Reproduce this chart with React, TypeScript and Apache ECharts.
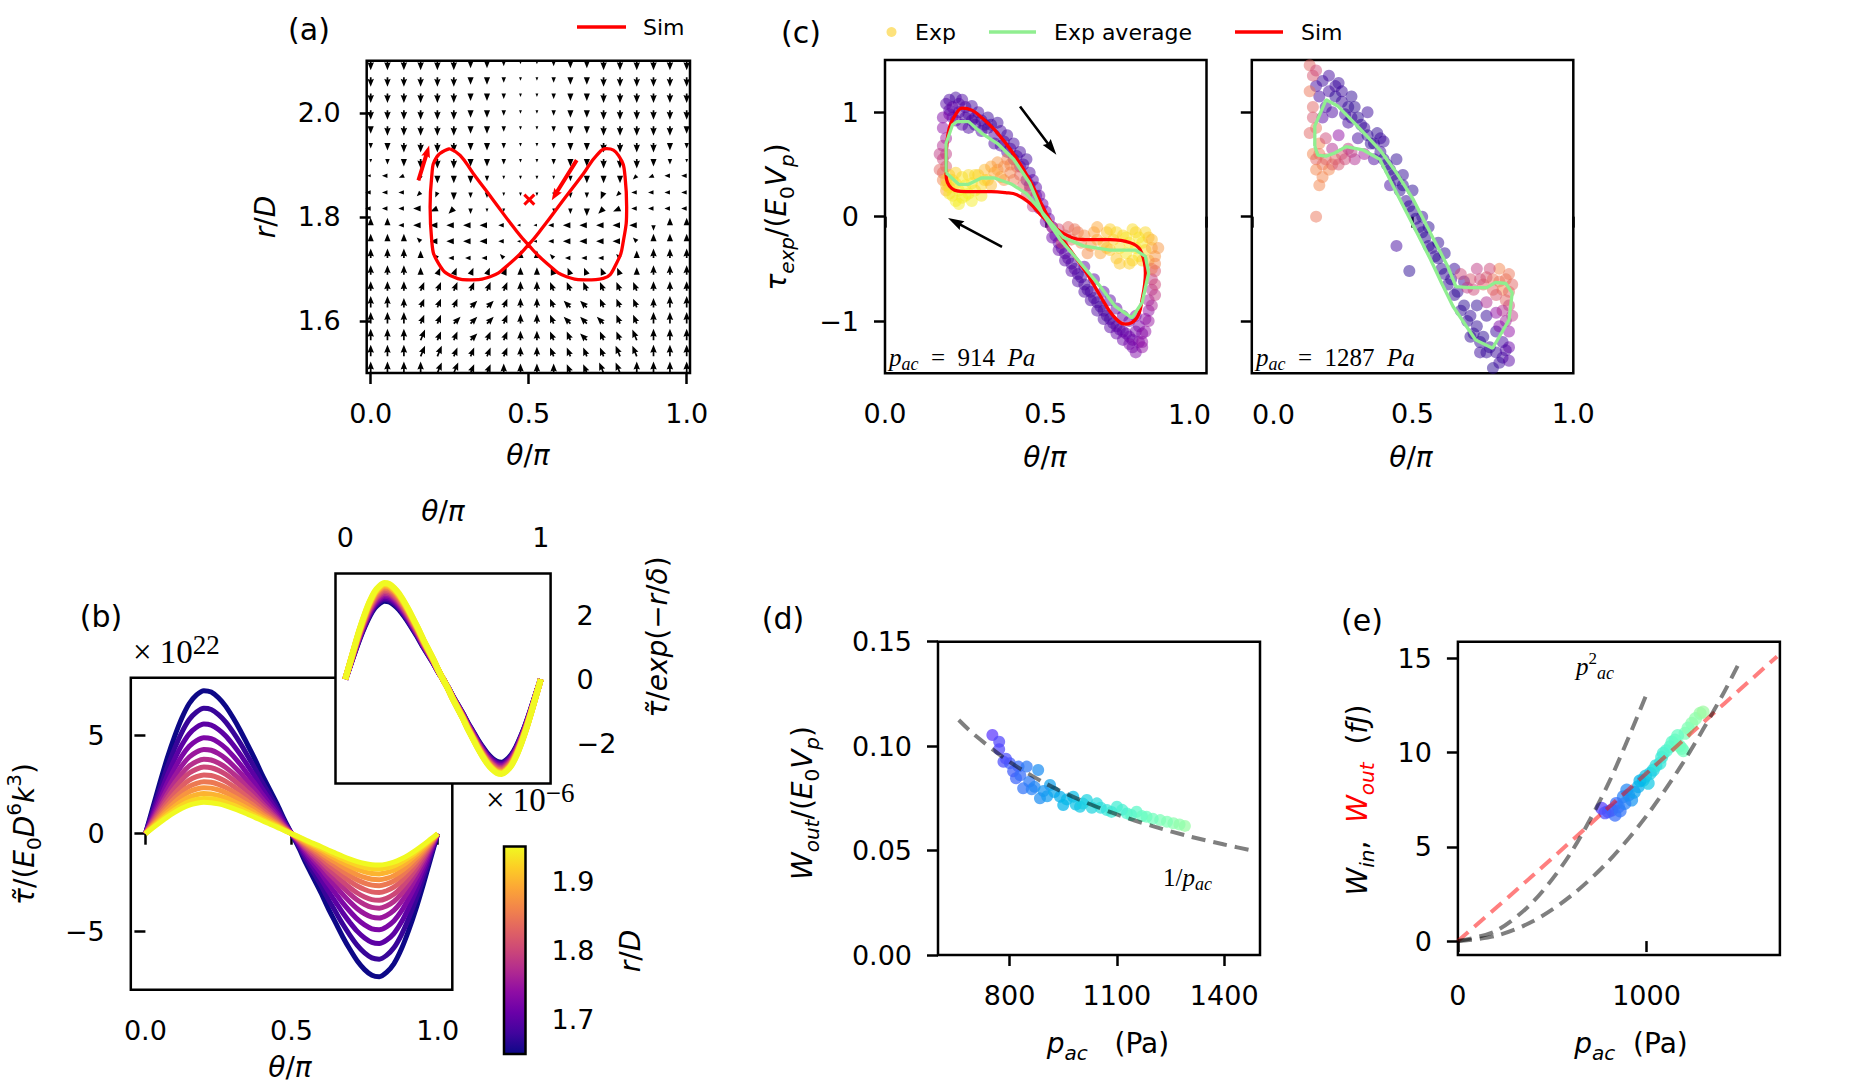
import React, { useEffect, useRef } from 'react';
import * as echarts from 'echarts';

const FONT = 'DejaVu Sans';
const SERIF = 'Liberation Serif';

// ================= Panel (a): quiver field + simulated figure-8 =================
const A_THETA = [0, 0.053, 0.105, 0.158, 0.211, 0.263, 0.316, 0.368, 0.421, 0.474, 0.526, 0.579, 0.632, 0.684, 0.737, 0.789, 0.842, 0.895, 0.947, 1.0];
const A_R = [2.1, 2.068, 2.037, 2.005, 1.974, 1.942, 1.911, 1.879, 1.847, 1.816, 1.784, 1.753, 1.721, 1.689, 1.658, 1.626, 1.595, 1.563, 1.532, 1.5];
// direction code per grid node: A=0deg (right), each letter +22.5deg ccw, E=up, I=left, M=down
const A_DIR = [
  'MMMMMMMMMMMMMMMMMMMM',
  'MMMMMMMMMMMMMMMMMMMM',
  'MMMMMMMMMMMMMMMMMMMM',
  'MMMMMMMMMMMMMMMMMMMM',
  'MMMMMMMMMMMMMMMMMMMM',
  'MMMMMMMMMMMMMMMMMMMM',
  'MMMMMMMMMMMMMMMMMMMM',
  'IIJLMMMMMMMMMMMMKJII',
  'IIIKLMMMMMMMMMLKIIII',
  'IIIIJKMMMMMMMMKJIIII',
  'EEIIIIIIIIIIIIIIIMEE',
  'EEEGIIIIIIIIIIIIGEEE',
  'EEEEGIIIGEEGIIIGEEEE',
  'EEEEDDDDDEEFFFFFEEEE',
  'EEEDDDDDDEEFFFFFFEEE',
  'EEEDDDCCDEEFGGFFFEEE',
  'EEEDDCCCDEEFGGGFFEEE',
  'EEEDDDCDDEEFFGFFFEEE',
  'EEEDDDDDDEEFFFFFFEEE',
  'EEEEDDDDEEEEFFFFEEEE',
];
// arrow length class per node (0 = none)
const A_LEN = [
  '44444433211233444444',
  '44444433211233444444',
  '44444433211233444444',
  '44444433211233444444',
  '34444433211233444443',
  '23444433211233444432',
  '12344433211233444321',
  '12223332111123332222',
  '22222322111122322222',
  '22233321100123332222',
  '33233333211233333233',
  '33323333211233332333',
  '44432222233222223444',
  '44433333333333333444',
  '44444444444444444444',
  '55444444444444444455',
  '55544444444444444555',
  '55554444444444445555',
  '55555444444444455555',
  '55555544444444555555',
];
const A_SIM = [
  [0.251, 1.931], [0.209, 1.915], [0.193, 1.877], [0.188, 1.819], [0.193, 1.755], [0.214, 1.711], [0.261, 1.685],
  [0.314, 1.679], [0.378, 1.685], [0.441, 1.711], [0.499, 1.746], [0.546, 1.781], [0.609, 1.832], [0.673, 1.883],
  [0.715, 1.918], [0.747, 1.931], [0.784, 1.918], [0.805, 1.877], [0.81, 1.819], [0.8, 1.755], [0.778, 1.711],
  [0.736, 1.682], [0.684, 1.679], [0.62, 1.685], [0.557, 1.711], [0.499, 1.746], [0.451, 1.781], [0.388, 1.832],
  [0.325, 1.883], [0.283, 1.918], [0.251, 1.931],
];
const A_ARROWS = [[0.151, 1.87, 0.185, 1.937], [0.652, 1.909, 0.573, 1.832]];
const A_CROSS = [[0.502, 1.833]];

// ================= Panel (b): torque curves =================
const B_THETA = [0, 0.025, 0.05, 0.075, 0.1, 0.125, 0.15, 0.175, 0.2, 0.225, 0.25, 0.275, 0.3, 0.325, 0.35, 0.375, 0.4, 0.425, 0.45, 0.475, 0.5,
  0.525, 0.55, 0.575, 0.6, 0.625, 0.65, 0.675, 0.7, 0.725, 0.75, 0.775, 0.8, 0.825, 0.85, 0.875, 0.9, 0.925, 0.95, 0.975, 1.0];
const B_SHAPE = [0, 0.18, 0.36, 0.53, 0.68, 0.81, 0.91, 0.97, 1.0, 0.99, 0.95, 0.89, 0.81, 0.72, 0.62, 0.52, 0.41, 0.31, 0.21, 0.1, 0,
  -0.1, -0.21, -0.31, -0.41, -0.52, -0.62, -0.72, -0.81, -0.89, -0.95, -0.99, -1.0, -0.97, -0.91, -0.81, -0.68, -0.53, -0.36, -0.18, 0];
const B_RD = [1.65, 1.675, 1.7, 1.725, 1.75, 1.775, 1.8, 1.825, 1.85, 1.875, 1.9, 1.925, 1.95];
const B_AMP = [7.3, 6.4, 5.6, 4.9, 4.3, 3.8, 3.4, 3.0, 2.65, 2.35, 2.05, 1.8, 1.6];
const B_INSET_POS = [2.45, 2.5, 2.55, 2.6, 2.65, 2.7, 2.75, 2.8, 2.85, 2.9, 2.93, 2.97, 3.0];
const B_INSET_NEG = [2.6, 2.63, 2.66, 2.7, 2.73, 2.77, 2.8, 2.83, 2.86, 2.89, 2.91, 2.93, 2.95];

// ================= Panel (c): experiment vs simulation =================
// [theta/pi, tau, colour value (plasma)]
const C1_EXP = [
  [0.19, 1.08, 0.15], [0.2, 1.12, 0.12], [0.21, 1.05, 0.18], [0.22, 1.14, 0.1], [0.23, 1.08, 0.15], [0.24, 1.12, 0.12], [0.25, 1.05, 0.14],
  [0.26, 0.98, 0.12], [0.27, 1.06, 0.1], [0.28, 0.95, 0.12], [0.2, 0.98, 0.2], [0.22, 0.92, 0.18], [0.24, 0.88, 0.15], [0.26, 0.85, 0.12],
  [0.28, 0.88, 0.1], [0.3, 0.92, 0.1], [0.3, 0.82, 0.12], [0.32, 0.95, 0.08], [0.32, 0.85, 0.1], [0.34, 0.78, 0.12], [0.35, 0.9, 0.08],
  [0.36, 0.82, 0.1], [0.37, 0.72, 0.12], [0.38, 0.78, 0.1], [0.39, 0.65, 0.12], [0.4, 0.7, 0.1], [0.41, 0.58, 0.12], [0.42, 0.62, 0.1],
  [0.43, 0.5, 0.12], [0.44, 0.55, 0.1], [0.45, 0.42, 0.12], [0.46, 0.35, 0.15], [0.47, 0.28, 0.15], [0.48, 0.2, 0.2], [0.49, 0.12, 0.2],
  [0.5, 0.05, 0.22], [0.51, -0.02, 0.2], [0.52, -0.1, 0.2], [0.53, -0.18, 0.18], [0.54, -0.25, 0.18], [0.55, -0.3, 0.15], [0.56, -0.35, 0.15],
  [0.57, -0.4, 0.15], [0.58, -0.45, 0.12], [0.59, -0.5, 0.12], [0.6, -0.55, 0.12], [0.61, -0.58, 0.12], [0.62, -0.65, 0.12], [0.63, -0.7, 0.1],
  [0.64, -0.72, 0.12], [0.65, -0.78, 0.1], [0.66, -0.82, 0.12], [0.67, -0.86, 0.1], [0.68, -0.9, 0.12], [0.69, -0.95, 0.1], [0.7, -0.98, 0.12],
  [0.71, -1.02, 0.12], [0.72, -1.05, 0.15], [0.73, -1.08, 0.15], [0.74, -1.1, 0.18], [0.75, -1.12, 0.18], [0.76, -1.15, 0.2], [0.77, -1.18, 0.2],
  [0.78, -1.1, 0.22], [0.79, -1.05, 0.25], [0.8, -1.12, 0.25], [0.81, -0.98, 0.28], [0.82, -0.9, 0.3], [0.82, -0.8, 0.35], [0.83, -0.7, 0.4],
  [0.83, -0.6, 0.45], [0.84, -0.52, 0.55], [0.62, -0.48, 0.15], [0.65, -0.6, 0.15], [0.68, -0.72, 0.15], [0.7, -0.8, 0.15], [0.72, -0.88, 0.18],
  [0.74, -0.95, 0.18], [0.76, -1.0, 0.2], [0.78, -0.95, 0.25], [0.79, -1.2, 0.25], [0.8, -1.25, 0.3], [0.76, -1.22, 0.25],
  [0.2, 1.02, 0.15], [0.21, 0.95, 0.2], [0.23, 1.0, 0.15], [0.25, 0.95, 0.12], [0.27, 0.92, 0.12], [0.29, 1.0, 0.1], [0.31, 0.88, 0.1],
  [0.33, 0.88, 0.1], [0.34, 0.7, 0.12], [0.36, 0.68, 0.12], [0.38, 0.62, 0.12], [0.4, 0.55, 0.12], [0.42, 0.48, 0.15], [0.44, 0.35, 0.15],
  [0.45, 0.3, 0.18], [0.47, 0.2, 0.2], [0.48, 0.08, 0.22], [0.5, -0.05, 0.22], [0.52, -0.2, 0.2], [0.54, -0.32, 0.18], [0.56, -0.42, 0.15],
  [0.58, -0.52, 0.15], [0.6, -0.62, 0.12], [0.62, -0.72, 0.12], [0.64, -0.8, 0.12], [0.66, -0.9, 0.12], [0.68, -0.98, 0.12], [0.7, -1.06, 0.15],
  [0.72, -1.12, 0.18], [0.74, -1.18, 0.2], [0.77, -1.25, 0.22], [0.78, -1.3, 0.25], [0.8, -1.2, 0.3], [0.81, -1.1, 0.3], [0.82, -1.0, 0.32],
  [0.83, -0.85, 0.38], [0.84, -0.75, 0.45], [0.84, -0.65, 0.5],
  [0.18, 0.95, 0.25], [0.18, 0.85, 0.3], [0.19, 0.75, 0.35], [0.18, 0.68, 0.4], [0.19, 0.6, 0.45], [0.18, 0.55, 0.5], [0.19, 0.48, 0.55], [0.18, 0.42, 0.65],
  [0.17, 0.6, 0.45], [0.17, 0.45, 0.6], [0.18, 0.35, 0.7], [0.19, 0.25, 0.8],
  [0.19, 0.35, 0.85], [0.2, 0.28, 0.9], [0.2, 0.4, 0.88], [0.21, 0.2, 0.95], [0.22, 0.32, 0.95], [0.22, 0.15, 0.97], [0.23, 0.25, 0.97],
  [0.24, 0.38, 0.95], [0.24, 0.18, 0.97], [0.25, 0.3, 0.97], [0.26, 0.22, 0.97], [0.26, 0.4, 0.93], [0.27, 0.32, 0.95], [0.28, 0.25, 0.95],
  [0.29, 0.4, 0.9], [0.3, 0.3, 0.92], [0.31, 0.45, 0.85], [0.32, 0.35, 0.88],
  [0.19, 0.3, 0.9], [0.2, 0.22, 0.95], [0.21, 0.35, 0.92], [0.22, 0.42, 0.9], [0.23, 0.12, 0.97], [0.25, 0.2, 0.97], [0.27, 0.15, 0.97],
  [0.28, 0.4, 0.92], [0.3, 0.2, 0.95], [0.31, 0.35, 0.9], [0.33, 0.3, 0.85], [0.35, 0.45, 0.78], [0.37, 0.35, 0.75], [0.39, 0.5, 0.7],
  [0.33, 0.48, 0.8], [0.34, 0.42, 0.8], [0.35, 0.52, 0.75], [0.36, 0.38, 0.78], [0.37, 0.48, 0.72], [0.38, 0.55, 0.7], [0.39, 0.42, 0.7],
  [0.4, 0.35, 0.68], [0.41, 0.48, 0.65], [0.42, 0.4, 0.62], [0.43, 0.3, 0.6], [0.44, 0.2, 0.55], [0.45, 0.25, 0.5], [0.46, 0.1, 0.45],
  [0.52, -0.1, 0.4], [0.54, -0.12, 0.5], [0.56, -0.18, 0.55], [0.57, -0.1, 0.6], [0.58, -0.22, 0.62], [0.6, -0.15, 0.68], [0.61, -0.25, 0.7],
  [0.62, -0.18, 0.72], [0.64, -0.28, 0.75], [0.65, -0.15, 0.78], [0.66, -0.22, 0.8], [0.67, -0.35, 0.8], [0.68, -0.25, 0.85], [0.69, -0.15, 0.85],
  [0.7, -0.32, 0.88], [0.71, -0.22, 0.9], [0.72, -0.4, 0.88], [0.73, -0.3, 0.92], [0.74, -0.18, 0.92], [0.75, -0.35, 0.95], [0.76, -0.25, 0.95],
  [0.77, -0.42, 0.92], [0.78, -0.3, 0.95], [0.78, -0.15, 0.9], [0.79, -0.38, 0.95], [0.8, -0.25, 0.95], [0.81, -0.32, 0.92], [0.82, -0.2, 0.85],
  [0.82, -0.42, 0.85], [0.83, -0.3, 0.8], [0.84, -0.38, 0.75], [0.84, -0.45, 0.7],
  [0.55, -0.25, 0.5], [0.59, -0.12, 0.65], [0.63, -0.35, 0.72], [0.66, -0.1, 0.8], [0.69, -0.3, 0.85], [0.7, -0.12, 0.9], [0.72, -0.15, 0.92],
  [0.73, -0.45, 0.88], [0.75, -0.2, 0.95], [0.76, -0.45, 0.9], [0.77, -0.12, 0.93], [0.79, -0.2, 0.95], [0.8, -0.42, 0.9], [0.81, -0.15, 0.92],
  [0.83, -0.22, 0.85], [0.85, -0.3, 0.75], [0.83, -0.5, 0.65],
];
const C1_AVG = [
  [0.19, 0.42], [0.19, 0.7], [0.21, 0.88], [0.224, 0.91], [0.26, 0.91], [0.3, 0.8], [0.35, 0.7], [0.4, 0.55], [0.45, 0.32], [0.49, 0.03],
  [0.545, -0.22], [0.607, -0.44], [0.67, -0.67], [0.716, -0.86], [0.768, -0.97], [0.8, -0.82], [0.82, -0.54], [0.81, -0.38], [0.78, -0.32],
  [0.74, -0.32], [0.7, -0.32], [0.617, -0.28], [0.555, -0.2], [0.5, 0.0], [0.44, 0.22], [0.395, 0.31], [0.34, 0.37], [0.3, 0.37],
  [0.26, 0.31], [0.229, 0.31], [0.19, 0.42],
];
const C1_SIM = [
  [0.19, 0.61], [0.2, 0.85], [0.22, 0.98], [0.24, 1.04], [0.27, 1.02], [0.3, 0.95], [0.35, 0.8], [0.4, 0.6], [0.45, 0.35], [0.49, 0.1],
  [0.524, -0.09], [0.576, -0.32], [0.627, -0.54], [0.67, -0.76], [0.71, -0.95], [0.747, -1.03], [0.783, -0.97], [0.8, -0.79], [0.81, -0.54],
  [0.794, -0.32], [0.763, -0.25], [0.7, -0.22], [0.617, -0.22], [0.555, -0.16], [0.49, 0.0], [0.45, 0.13], [0.41, 0.21], [0.374, 0.23],
  [0.33, 0.24], [0.25, 0.24], [0.208, 0.27], [0.19, 0.4], [0.19, 0.61],
];
const C2_EXP = [
  [0.2, 1.25, 0.1], [0.22, 1.3, 0.08], [0.24, 1.2, 0.1], [0.26, 1.15, 0.05], [0.28, 1.1, 0.08], [0.3, 1.05, 0.06], [0.25, 1.0, 0.12],
  [0.22, 0.95, 0.15], [0.3, 0.9, 0.1], [0.33, 0.95, 0.05], [0.35, 0.85, 0.08], [0.33, 0.75, 0.1], [0.37, 0.7, 0.06], [0.4, 0.62, 0.07],
  [0.38, 0.55, 0.12], [0.42, 0.5, 0.05], [0.44, 0.4, 0.06], [0.43, 0.3, 0.1], [0.46, 0.25, 0.05], [0.48, 0.15, 0.07], [0.5, 0.05, 0.05],
  [0.52, -0.1, 0.06], [0.54, -0.2, 0.05], [0.56, -0.3, 0.07], [0.58, -0.4, 0.05], [0.6, -0.55, 0.06], [0.62, -0.6, 0.08], [0.64, -0.72, 0.06],
  [0.66, -0.85, 0.05], [0.68, -0.95, 0.07], [0.7, -1.05, 0.06], [0.72, -1.15, 0.05], [0.74, -1.25, 0.07], [0.76, -1.3, 0.08], [0.78, -1.35, 0.1],
  [0.75, -1.45, 0.05], [0.8, -1.25, 0.2], [0.8, -1.1, 0.3], [0.81, -0.95, 0.45], [0.45, -0.28, 0.1], [0.49, -0.52, 0.05],
  [0.27, 1.28, 0.08], [0.31, 1.15, 0.06], [0.36, 1.0, 0.08], [0.39, 0.8, 0.06], [0.41, 0.72, 0.08], [0.45, 0.55, 0.06], [0.47, 0.4, 0.06],
  [0.5, 0.25, 0.05], [0.53, 0.0, 0.06], [0.55, -0.1, 0.05], [0.58, -0.25, 0.06], [0.6, -0.35, 0.05], [0.63, -0.5, 0.07], [0.66, -0.62, 0.08],
  [0.7, -0.85, 0.06], [0.73, -0.95, 0.07], [0.76, -1.1, 0.08], [0.78, -1.2, 0.1], [0.68, -1.15, 0.06], [0.71, -1.3, 0.08],
  [0.21, 1.15, 0.1], [0.23, 1.05, 0.1], [0.24, 1.35, 0.1], [0.26, 1.25, 0.08], [0.28, 1.2, 0.08], [0.29, 0.98, 0.08], [0.31, 0.95, 0.08],
  [0.32, 1.05, 0.06], [0.34, 0.88, 0.07], [0.36, 0.78, 0.06], [0.38, 0.7, 0.06], [0.4, 0.75, 0.08], [0.41, 0.55, 0.06], [0.43, 0.45, 0.06],
  [0.45, 0.35, 0.06], [0.47, 0.3, 0.06], [0.49, 0.1, 0.06], [0.51, -0.02, 0.06], [0.53, -0.15, 0.06], [0.55, -0.28, 0.06], [0.57, -0.38, 0.06],
  [0.59, -0.5, 0.06], [0.61, -0.65, 0.06], [0.63, -0.75, 0.06], [0.65, -0.9, 0.06], [0.67, -1.0, 0.06], [0.69, -1.12, 0.06], [0.71, -1.2, 0.06],
  [0.73, -1.3, 0.07], [0.77, -1.4, 0.08], [0.79, -1.28, 0.12], [0.8, -1.38, 0.15],
  [0.18, 1.45, 0.6], [0.19, 1.35, 0.55], [0.2, 1.4, 0.5], [0.18, 1.2, 0.65], [0.19, 1.05, 0.6], [0.2, 0.85, 0.65], [0.21, 0.7, 0.7],
  [0.19, 0.6, 0.7], [0.22, 0.5, 0.65], [0.24, 0.45, 0.7], [0.26, 0.55, 0.6], [0.28, 0.6, 0.55], [0.3, 0.65, 0.45], [0.32, 0.55, 0.4],
  [0.35, 0.6, 0.35], [0.21, 0.3, 0.7], [0.2, 0.0, 0.65], [0.23, 0.75, 0.5], [0.25, 0.65, 0.4], [0.27, 0.78, 0.3], [0.2, 0.55, 0.6],
  [0.18, 0.8, 0.6], [0.19, 0.95, 0.55], [0.21, 0.6, 0.65], [0.23, 0.55, 0.6], [0.25, 0.5, 0.6], [0.27, 0.5, 0.55], [0.29, 0.55, 0.5],
  [0.31, 0.62, 0.45], [0.2, 0.45, 0.7], [0.22, 0.38, 0.7],
  [0.65, -0.55, 0.5], [0.68, -0.6, 0.55], [0.7, -0.5, 0.45], [0.72, -0.65, 0.6], [0.75, -0.6, 0.65], [0.77, -0.5, 0.7], [0.78, -0.7, 0.7],
  [0.8, -0.55, 0.65], [0.79, -0.8, 0.6], [0.76, -0.75, 0.55], [0.74, -0.5, 0.5], [0.81, -0.65, 0.6], [0.73, -0.82, 0.4], [0.76, -0.92, 0.3],
  [0.67, -0.68, 0.45], [0.69, -0.7, 0.5], [0.71, -0.6, 0.5], [0.73, -0.58, 0.55], [0.75, -0.7, 0.6], [0.77, -0.62, 0.65], [0.79, -0.6, 0.65],
  [0.8, -0.72, 0.6], [0.8, -0.85, 0.5], [0.78, -0.9, 0.4], [0.79, -1.0, 0.35], [0.77, -1.05, 0.25],
];
const C2_AVG = [
  [0.196, 0.674], [0.196, 0.87], [0.223, 1.06], [0.231, 1.12], [0.267, 1.06], [0.328, 0.87], [0.398, 0.64], [0.45, 0.42], [0.503, 0.16],
  [0.556, -0.16], [0.61, -0.48], [0.635, -0.67], [0.679, -0.68], [0.731, -0.68], [0.758, -0.63], [0.79, -0.64], [0.81, -0.73], [0.8, -0.99],
  [0.749, -1.26], [0.696, -1.18], [0.626, -0.86], [0.591, -0.64], [0.556, -0.41], [0.503, -0.09], [0.45, 0.23], [0.398, 0.55], [0.345, 0.64],
  [0.293, 0.67], [0.258, 0.61], [0.231, 0.58], [0.205, 0.59], [0.196, 0.674],
];
const C_ARROWS = [[0.42, 1.055, 0.533, 0.593], [0.364, -0.29, 0.196, -0.013]];

// ================= Panel (d): normalised output work =================
// [p_ac (Pa), W_out/(E0 Vp), colour value]
const D_EXP = [
  [752, 0.1053, 0.07], [771, 0.1021, 0.09], [771, 0.0985, 0.09], [783, 0.0925, 0.1], [801, 0.0918, 0.12], [825, 0.0902, 0.14],
  [848, 0.0902, 0.16], [880, 0.0886, 0.19], [818, 0.0846, 0.13], [838, 0.0798, 0.15], [862, 0.0793, 0.17], [885, 0.075, 0.19],
  [913, 0.0814, 0.22], [941, 0.0758, 0.24], [950, 0.0718, 0.25], [978, 0.0758, 0.27], [997, 0.071, 0.29], [1016, 0.0742, 0.31],
  [1044, 0.0726, 0.33], [1072, 0.0694, 0.36], [1100, 0.071, 0.38], [1128, 0.0678, 0.41], [1155, 0.0686, 0.43], [1183, 0.0662, 0.46],
  [1221, 0.0646, 0.49], [1258, 0.0631, 0.52], [1290, 0.0618, 0.55],
  [790, 0.094, 0.1], [810, 0.088, 0.12], [830, 0.086, 0.14], [855, 0.083, 0.16], [870, 0.0805, 0.18], [895, 0.0785, 0.2], [905, 0.076, 0.21],
  [925, 0.078, 0.23], [960, 0.0745, 0.26], [985, 0.072, 0.28], [1005, 0.0725, 0.3], [1030, 0.0705, 0.32], [1055, 0.0705, 0.34],
  [1085, 0.0685, 0.37], [1115, 0.0695, 0.39], [1140, 0.067, 0.42], [1170, 0.0665, 0.45], [1200, 0.0652, 0.47], [1240, 0.0638, 0.5], [1275, 0.0625, 0.53],
];
const D_FIT = [[658, 0.1125], [700, 0.1057], [800, 0.0925], [900, 0.0822], [1000, 0.074], [1100, 0.0673], [1200, 0.0617], [1300, 0.0569], [1400, 0.0529], [1485, 0.0498]];

// ================= Panel (e): W_in, W_out =================
const E_EXP = [
  [762, 7.04, 0.08], [797, 6.86, 0.11], [833, 6.68, 0.14], [851, 7.12, 0.15], [877, 7.66, 0.17], [895, 8.01, 0.18], [921, 7.48, 0.2],
  [956, 8.19, 0.24], [983, 8.54, 0.27], [1009, 8.37, 0.29], [1036, 9.07, 0.32], [1071, 9.43, 0.36], [1089, 9.96, 0.38], [1125, 10.31, 0.42],
  [1151, 10.66, 0.44], [1186, 10.22, 0.47], [1204, 11.02, 0.49], [1240, 11.55, 0.52], [1284, 12.08, 0.55],
  [780, 6.8, 0.1], [815, 6.95, 0.12], [840, 7.3, 0.14], [860, 6.9, 0.15], [885, 7.3, 0.17], [905, 7.75, 0.19], [935, 7.9, 0.22],
  [965, 8.5, 0.25], [995, 8.75, 0.28], [1020, 8.9, 0.3], [1050, 9.3, 0.34], [1080, 9.75, 0.37], [1105, 10.1, 0.4], [1135, 10.55, 0.43],
  [1165, 10.9, 0.45], [1175, 10.35, 0.46], [1195, 10.1, 0.47], [1220, 11.3, 0.5], [1260, 11.8, 0.53], [1300, 12.15, 0.56],
];
const E_WOUT = [[0, 0], [400, 3.5], [800, 7.1], [1200, 10.7], [1692, 15.1]];
const E_P2A = [[0, 0], [200, 0.53], [400, 2.1], [600, 4.7], [800, 8.4], [1000, 13.1]];
const E_P2B = [[0, 0], [200, 0.27], [400, 1.06], [600, 2.4], [800, 4.25], [1000, 6.64], [1200, 9.56], [1400, 13.0], [1498, 14.9]];

// ================= colour maps (styling) =================
const PLASMA = ['#0d0887', '#41049d', '#6a00a8', '#8f0da4', '#b12a90', '#cc4778', '#e16462', '#f2844b', '#fca636', '#fcce25', '#f0f921'];
const RAINBOW = ['#8000ff', '#6628fe', '#4d4ffc', '#3374f8', '#1a96f2', '#00b4eb', '#1acee3', '#33e3da', '#4df3ce', '#66fcc2', '#80ffb4', '#99fca5', '#b3f396'];
function hex(c: string) { return [parseInt(c.slice(1, 3), 16), parseInt(c.slice(3, 5), 16), parseInt(c.slice(5, 7), 16)]; }
function cmap(stops: string[], t: number, span = 1, alpha = 1) {
  const u = Math.max(0, Math.min(1, t / span)) * (stops.length - 1);
  const i = Math.min(stops.length - 2, Math.floor(u));
  const f = u - i;
  const a = hex(stops[i]), b = hex(stops[i + 1]);
  const m = a.map((v, k) => Math.round(v + (b[k] - v) * f));
  return `rgba(${m[0]},${m[1]},${m[2]},${alpha})`;
}
const rainbowAt = (t: number, a = 1) => cmap(RAINBOW, t, 0.6, a);

const BLACK = '#000';
const TICK = { show: true, inside: false, length: 11, lineStyle: { color: BLACK, width: 2.5 } };

function axis(gridIndex: number, min: number, max: number, ticks: number[] | null, fmt: any, position: string, opts: any = {}) {
  const labels = opts.labels || ticks;
  return {
    type: 'value', gridIndex, min, max, position,
    axisLine: { show: false },
    axisTick: { ...TICK, customValues: ticks || undefined, show: ticks !== null },
    axisLabel: {
      show: opts.noLabel ? false : ticks !== null, customValues: labels || undefined, formatter: fmt,
      fontFamily: FONT, fontSize: 27, color: BLACK, margin: opts.margin ?? 26,
    },
    splitLine: { show: false },
    ...(opts.hidden ? { show: false } : {}),
  };
}
const f1 = (v: number) => v.toFixed(1);
const fInt = (v: number) => (v < 0 ? '\u2212' + Math.abs(v) : String(v));
const f2 = (v: number) => v.toFixed(2);

// rich text styles for mathtext-like labels
const RICH: any = {
  n: { fontFamily: FONT, fontSize: 28, lineHeight: 40, fill: BLACK },
  i: { fontFamily: FONT, fontSize: 28, fontStyle: 'italic', lineHeight: 40, fill: BLACK },
  ir: { fontFamily: FONT, fontSize: 28, fontStyle: 'italic', lineHeight: 40, fill: '#ff0000' },
  s: { fontFamily: FONT, fontSize: 20, fontStyle: 'italic', lineHeight: 22, verticalAlign: 'bottom', fill: BLACK },
  sr: { fontFamily: FONT, fontSize: 20, fontStyle: 'italic', lineHeight: 22, verticalAlign: 'bottom', fill: '#ff0000' },
  su: { fontFamily: FONT, fontSize: 20, lineHeight: 22, verticalAlign: 'bottom', fill: BLACK },
  sp: { fontFamily: FONT, fontSize: 20, lineHeight: 22, verticalAlign: 'top', fill: BLACK },
  // serif (computer-modern like)
  m: { fontFamily: SERIF, fontSize: 33, lineHeight: 42, fill: BLACK },
  mp: { fontFamily: SERIF, fontSize: 27, lineHeight: 24, verticalAlign: 'top', fill: BLACK },
  mi: { fontFamily: SERIF, fontSize: 25, fontStyle: 'italic', lineHeight: 32, fill: BLACK },
  mn: { fontFamily: SERIF, fontSize: 25, lineHeight: 32, fill: BLACK },
  ms: { fontFamily: SERIF, fontSize: 18, fontStyle: 'italic', lineHeight: 18, verticalAlign: 'bottom', fill: BLACK },
  msp: { fontFamily: SERIF, fontSize: 17, lineHeight: 17, verticalAlign: 'top', fill: BLACK },
};
function T(x: number, y: number, text: string, o: any = {}) {
  return {
    type: 'text', x, y, rotation: o.rot || 0, z: 100,
    style: {
      text, rich: RICH, fill: BLACK, fontFamily: FONT, fontSize: o.size || 28,
      align: o.align || 'center', verticalAlign: o.va || 'middle',
    },
  };
}

function quiverData() {
  const out: number[][] = [];
  for (let j = 0; j < A_R.length; j++) {
    for (let i = 0; i < A_THETA.length; i++) {
      const d = A_DIR[j].charCodeAt(i) - 65;
      const l = Number(A_LEN[j][i]);
      out.push([A_THETA[i], A_R[j], d * 22.5, l]);
    }
  }
  return out;
}
const LEN_PX = [0, 3.5, 5.5, 7.5, 9.5, 11.5, 13.5];

function arrowPoly(p: number[], ang: number, L: number, sw: number, hw: number, hl: number) {
  const dx = Math.cos(ang), dy = -Math.sin(ang);
  const nx = -dy, ny = dx;
  const P = (u: number, v: number) => [p[0] + u * dx + v * nx, p[1] + u * dy + v * ny];
  if (L <= hl) {
    const s = L / hl;
    return [P(0, (hw / 2) * s), P(L, 0), P(0, (-hw / 2) * s)];
  }
  const b = L - hl;
  return [P(0, sw / 2), P(b + hl * 0.1, sw / 2), P(b, hw / 2), P(L, 0), P(b, -hw / 2), P(b + hl * 0.1, -sw / 2), P(0, -sw / 2)];
}

function buildOption() {
  const grids = [
    { left: 366.7, top: 60.7, width: 323.3, height: 312.3 }, // 0 a
    { left: 130.8, top: 677.7, width: 321.5, height: 312, z: 0 }, // 1 b main
    { left: 335.5, top: 573.4, width: 215.1, height: 210.1, z: 1, backgroundColor: '#fff' }, // 2 b inset
    { left: 504, top: 846.5, width: 21.5, height: 207.5, show: false }, // 3 colorbar
    { left: 885, top: 60, width: 321.5, height: 313.3 }, // 4 c1
    { left: 1251.8, top: 60, width: 321.5, height: 313.3 }, // 5 c2
    { left: 938, top: 641.7, width: 322, height: 313.3 }, // 6 d
    { left: 1457.9, top: 641.7, width: 322, height: 313.3 }, // 7 e
  ].map((g) => ({ show: true, borderColor: BLACK, borderWidth: 2.5, backgroundColor: 'transparent', ...g }));

  const xAxis = [
    axis(0, -0.0127, 1.0105, [0, 0.5, 1], f1, 'bottom', { margin: 27 }),
    axis(1, -0.05, 1.05, [0, 0.5, 1], f1, 'bottom', { margin: 27 }),
    axis(2, -0.05, 1.05, [0, 1], fInt, 'top', { margin: 22 }),
    axis(3, 0, 1, null, null, 'bottom', { hidden: true }),
    axis(4, 0, 1, [0, 0.5, 1], f1, 'bottom', { margin: 27, labels: [0, 0.5] }),
    axis(5, 0, 1, [0, 0.5, 1], f1, 'bottom', { margin: 27, labels: [0.5, 1] }),
    axis(6, 600, 1500, [800, 1100, 1400], fInt, 'bottom', { margin: 27 }),
    axis(7, 0, 1707, [0, 1000], fInt, 'bottom', { margin: 27 }),
  ];
  const yAxis = [
    axis(0, 1.5, 2.1, [1.6, 1.8, 2.0], f1, 'left'),
    axis(1, -7.96, 7.96, [-5, 0, 5], fInt, 'left'),
    axis(2, -3.25, 3.3, [-2, 0, 2], fInt, 'right'),
    axis(3, 1.65, 1.95, [1.7, 1.8, 1.9], f1, 'right'),
    axis(4, -1.5, 1.5, [-1, 0, 1], fInt, 'left'),
    axis(5, -1.5, 1.5, [-1, 0, 1], fInt, 'left', { noLabel: true }),
    axis(6, 0, 0.15, [0, 0.05, 0.1, 0.15], f2, 'left'),
    axis(7, -0.74, 15.88, [0, 5, 10, 15], fInt, 'left'),
  ];

  const series: any[] = [];
  // (a) quiver
  series.push({
    type: 'custom', xAxisIndex: 0, yAxisIndex: 0, data: quiverData(), z: 2, silent: true,
    renderItem: (_p: any, api: any) => {
      const L = LEN_PX[api.value(3)];
      if (!L) return null;
      const c = api.coord([api.value(0), api.value(1)]);
      const pts = arrowPoly(c, (api.value(2) * Math.PI) / 180, L, 1.7, 6.5, 8);
      return { type: 'polygon', shape: { points: pts }, style: { fill: BLACK } };
    },
  });
  series.push({
    type: 'line', xAxisIndex: 0, yAxisIndex: 0, data: A_SIM, smooth: 0.5, showSymbol: false, z: 3,
    lineStyle: { color: '#ff0000', width: 3.3 },
  });
  const arrowRender = (color: string, w: number, hw: number, hl: number) => (_p: any, api: any) => {
    const a = api.coord([api.value(0), api.value(1)]);
    const b = api.coord([api.value(2), api.value(3)]);
    const ang = Math.atan2(-(b[1] - a[1]), b[0] - a[0]);
    const L = Math.hypot(b[0] - a[0], b[1] - a[1]);
    const pts = arrowPoly(a, ang, L, w, hw, hl);
    return { type: 'polygon', shape: { points: pts }, style: { fill: color } };
  };
  series.push({
    type: 'custom', xAxisIndex: 0, yAxisIndex: 0, data: A_ARROWS, z: 4, encode: { x: [0, 2], y: [1, 3] },
    renderItem: arrowRender('#ff0000', 4, 9, 12),
  });
  series.push({
    type: 'custom', xAxisIndex: 0, yAxisIndex: 0, data: A_CROSS, z: 4,
    renderItem: (_p: any, api: any) => {
      const c = api.coord([api.value(0), api.value(1)]);
      const s = 5;
      return {
        type: 'group', children: [
          { type: 'line', shape: { x1: c[0] - s, y1: c[1] - s, x2: c[0] + s, y2: c[1] + s }, style: { stroke: '#ff0000', lineWidth: 3 } },
          { type: 'line', shape: { x1: c[0] - s, y1: c[1] + s, x2: c[0] + s, y2: c[1] - s }, style: { stroke: '#ff0000', lineWidth: 3 } },
        ],
      };
    },
  });

  // (b) main & inset curves
  B_RD.forEach((rd, k) => {
    const col = cmap(PLASMA, (rd - 1.65) / 0.3);
    series.push({
      type: 'line', xAxisIndex: 1, yAxisIndex: 1, showSymbol: false, smooth: 0.3, z: 2 + k * 0.01,
      data: B_THETA.map((t, i) => [t, B_SHAPE[i] * B_AMP[k]]),
      lineStyle: { color: col, width: 5 },
    });
  });
  B_RD.forEach((rd, k) => {
    const col = cmap(PLASMA, (rd - 1.65) / 0.3);
    series.push({
      type: 'line', xAxisIndex: 2, yAxisIndex: 2, showSymbol: false, smooth: 0.3, z: 3 + k * 0.01,
      data: B_THETA.map((t, i) => [t, B_SHAPE[i] * (B_SHAPE[i] > 0 ? B_INSET_POS[k] : B_INSET_NEG[k])]),
      lineStyle: { color: col, width: 6 },
    });
  });
  // colorbar
  series.push({
    type: 'custom', xAxisIndex: 3, yAxisIndex: 3, data: [[0, 1.65, 1, 1.95]], encode: { x: [0, 2], y: [1, 3] }, z: 2,
    renderItem: (_p: any, api: any) => {
      const a = api.coord([api.value(0), api.value(3)]);
      const b = api.coord([api.value(2), api.value(1)]);
      const stops = PLASMA.map((c, i) => ({ offset: i / (PLASMA.length - 1), color: c }));
      return {
        type: 'group', children: [
          { type: 'rect', shape: { x: a[0], y: a[1], width: b[0] - a[0], height: b[1] - a[1] }, style: { fill: new echarts.graphic.LinearGradient(0, 1, 0, 0, stops) } },
          { type: 'rect', shape: { x: a[0], y: a[1], width: b[0] - a[0], height: b[1] - a[1] }, style: { fill: 'none', stroke: BLACK, lineWidth: 2.5 } },
        ],
      };
    },
  });

  // (c)
  const cScatter = (data: number[][], xi: number) => ({
    type: 'scatter', xAxisIndex: xi, yAxisIndex: xi, data, symbolSize: 12, z: 2,
    itemStyle: { color: (p: any) => cmap(PLASMA, p.data[2], 1, 0.62) },
  });
  series.push(cScatter(C1_EXP, 4));
  series.push({ type: 'line', xAxisIndex: 4, yAxisIndex: 4, data: C1_SIM, smooth: 0.4, showSymbol: false, z: 3, lineStyle: { color: '#ff0000', width: 3.3 } });
  series.push({ type: 'line', xAxisIndex: 4, yAxisIndex: 4, data: C1_AVG, showSymbol: false, z: 4, lineStyle: { color: '#90ee90', width: 3.3 } });
  series.push({ type: 'custom', xAxisIndex: 4, yAxisIndex: 4, data: C_ARROWS, z: 5, encode: { x: [0, 2], y: [1, 3] }, renderItem: arrowRender(BLACK, 2.6, 10, 16) });
  series.push(cScatter(C2_EXP, 5));
  series.push({ type: 'line', xAxisIndex: 5, yAxisIndex: 5, data: C2_AVG, showSymbol: false, z: 4, lineStyle: { color: '#90ee90', width: 3.3 } });

  // (d)
  series.push({
    type: 'scatter', xAxisIndex: 6, yAxisIndex: 6, data: D_EXP, symbolSize: 12, z: 2,
    itemStyle: { color: (p: any) => rainbowAt(p.data[2], 0.9) },
  });
  series.push({ type: 'line', xAxisIndex: 6, yAxisIndex: 6, data: D_FIT, smooth: 0.3, showSymbol: false, z: 3, lineStyle: { color: 'rgba(0,0,0,0.5)', width: 4, type: [14, 8] } });

  // (e)
  series.push({
    type: 'scatter', xAxisIndex: 7, yAxisIndex: 7, data: E_EXP, symbolSize: 13, z: 2,
    itemStyle: { color: (p: any) => rainbowAt(p.data[2], 0.9) },
  });
  series.push({ type: 'line', xAxisIndex: 7, yAxisIndex: 7, data: E_WOUT, smooth: 0.3, showSymbol: false, z: 3, lineStyle: { color: 'rgba(255,0,0,0.5)', width: 4, type: [14, 8] } });
  series.push({ type: 'line', xAxisIndex: 7, yAxisIndex: 7, data: E_P2A, smooth: 0.3, showSymbol: false, z: 3, lineStyle: { color: 'rgba(0,0,0,0.5)', width: 4, type: [14, 8] } });
  series.push({ type: 'line', xAxisIndex: 7, yAxisIndex: 7, data: E_P2B, smooth: 0.3, showSymbol: false, z: 3, lineStyle: { color: 'rgba(0,0,0,0.5)', width: 4, type: [14, 8] } });

  const graphic: any[] = [
    // panel labels
    T(309, 29, '(a)', { size: 30 }),
    T(101, 616, '(b)', { size: 30 }),
    T(801, 32, '(c)', { size: 30 }),
    T(783, 618, '(d)', { size: 30 }),
    T(1362, 620, '(e)', { size: 30 }),
    // (a)
    T(265, 217, '{i|r}{n|/}{i|D}', { rot: Math.PI / 2 }),
    T(528, 455, '{i|θ}{n|/}{i|π}'),
    { type: 'line', shape: { x1: 577, y1: 27, x2: 626, y2: 27 }, style: { stroke: '#ff0000', lineWidth: 3.3 }, z: 100 },
    T(643, 27, 'Sim', { size: 22, align: 'left' }),
    // (b)
    T(24, 834, '{i|τ̃}{n|/(}{i|E}{su|0}{i|D}{sp|6}{i|k}{sp|3}{n|)}', { rot: Math.PI / 2 }),
    T(290, 1067, '{i|θ}{n|/}{i|π}'),
    T(133, 652, '{m|× 10}{mp|22}', { align: 'left' }),
    T(443, 511, '{i|θ}{n|/}{i|π}'),
    T(657, 637, '{i|τ̃}{n|/}{i|exp}{n|(−}{i|r}{n|/}{i|δ}{n|)}', { rot: Math.PI / 2 }),
    T(486, 800, '{m|× 10}{mp|−6}', { align: 'left' }),
    T(630, 951, '{i|r}{n|/}{i|D}', { rot: Math.PI / 2 }),
    // (c)
    T(776.5, 217, '{i|τ}{s|exp}{n|/(}{i|E}{su|0}{i|V}{s|p}{n|)}', { rot: Math.PI / 2 }),
    T(1045, 457, '{i|θ}{n|/}{i|π}'),
    T(1411, 457, '{i|θ}{n|/}{i|π}'),
    T(1211, 414, '1.0', { size: 27, align: 'right' }),
    T(1252, 414, '0.0', { size: 27, align: 'left' }),
    { type: 'circle', shape: { cx: 891.5, cy: 32, r: 5 }, style: { fill: 'rgba(252,206,37,0.6)' }, z: 100 },
    T(915, 32, 'Exp', { size: 22, align: 'left' }),
    { type: 'line', shape: { x1: 989, y1: 32, x2: 1036, y2: 32 }, style: { stroke: '#90ee90', lineWidth: 3.3 }, z: 100 },
    T(1054, 32, 'Exp average', { size: 22, align: 'left' }),
    { type: 'line', shape: { x1: 1235, y1: 32, x2: 1283, y2: 32 }, style: { stroke: '#ff0000', lineWidth: 3.3 }, z: 100 },
    T(1301, 32, 'Sim', { size: 22, align: 'left' }),
    T(889, 357, '{mi|p}{ms|ac}{mn|\u2002=\u2002914\u2002}{mi|Pa}', { align: 'left' }),
    T(1256, 357, '{mi|p}{ms|ac}{mn|\u2002=\u20021287\u2002}{mi|Pa}', { align: 'left' }),
    // (d)
    T(802, 803, '{i|W}{s|out}{n|/(}{i|E}{su|0}{i|V}{s|p}{n|)}', { rot: Math.PI / 2 }),
    T(1108, 1043, '{i|p}{s|ac}{n|   (Pa)}'),
    T(1163, 877, '{mn|1/}{mi|p}{ms|ac}', { align: 'left' }),
    // (e)
    T(1357, 800, '{i|W}{s|in}{n|,  }{ir|W}{sr|out}{n|  (}{i|fJ}{n|)}', { rot: Math.PI / 2 }),
    T(1631, 1043, '{i|p}{s|ac}{n|  (Pa)}'),
    T(1576, 666, '{mi|p}{msp|2}{ms|ac}', { align: 'left' }),
  ];

  return { animation: false, backgroundColor: '#fff', grid: grids, xAxis, yAxis, series, graphic };
}

export default function App() {
  const ref = useRef<HTMLDivElement>(null);
  useEffect(() => {
    document.body.style.margin = '0';
    const chart = echarts.init(ref.current!, undefined, { renderer: 'svg' });
    chart.setOption(buildOption() as any);
    return () => chart.dispose();
  }, []);
  return <div ref={ref} style={{ width: 1873, height: 1089 }} />;
}
